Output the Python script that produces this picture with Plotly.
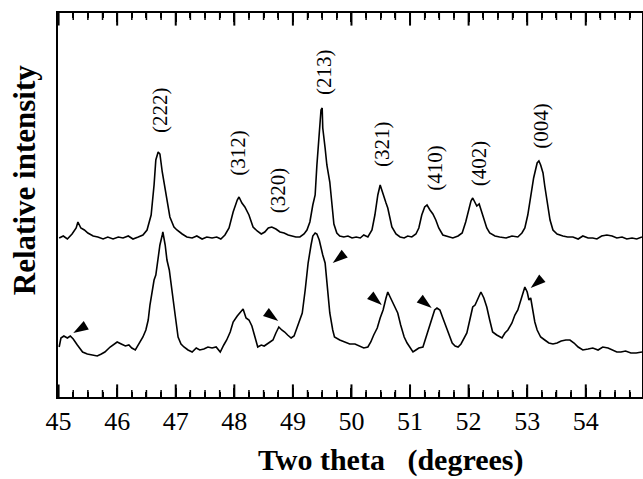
import plotly.graph_objects as go

# ---- data ----
two_theta_top = [
    45.01, 45.08, 45.15, 45.23, 45.30, 45.33, 45.38, 45.44, 45.50, 45.59,
    45.67, 45.76, 45.84, 45.93, 46.02, 46.10, 46.19, 46.27, 46.36, 46.44,
    46.51, 46.58, 46.63, 46.66, 46.70, 46.73, 46.77, 46.80, 46.85, 46.90,
    46.97, 47.02, 47.11, 47.19, 47.28, 47.36, 47.45, 47.53, 47.62, 47.70,
    47.77, 47.84, 47.91, 47.98, 48.05, 48.08, 48.13, 48.18, 48.25, 48.32,
    48.39, 48.46, 48.52, 48.58, 48.64, 48.71, 48.78, 48.85, 48.92, 48.98,
    49.05, 49.12, 49.19, 49.24, 49.29, 49.34, 49.38, 49.41, 49.45, 49.48,
    49.50, 49.51, 49.55, 49.58, 49.63, 49.67, 49.70, 49.75, 49.80, 49.87,
    49.94, 50.01, 50.08, 50.15, 50.21, 50.28, 50.35, 50.40, 50.45, 50.49,
    50.54, 50.59, 50.62, 50.66, 50.69, 50.76, 50.83, 50.90, 50.96, 51.03,
    51.10, 51.15, 51.20, 51.25, 51.29, 51.34, 51.39, 51.44, 51.49, 51.56,
    51.65, 51.73, 51.82, 51.89, 51.95, 52.01, 52.04, 52.07, 52.11, 52.14,
    52.18, 52.21, 52.26, 52.31, 52.36, 52.45, 52.53, 52.64, 52.74, 52.84,
    52.91, 52.96, 53.01, 53.06, 53.11, 53.17, 53.20, 53.23, 53.27, 53.30,
    53.34, 53.39, 53.44, 53.51, 53.61, 53.69, 53.78, 53.87, 53.95, 54.04,
    54.12, 54.19, 54.27, 54.36, 54.45, 54.53, 54.62, 54.70, 54.79, 54.87,
    54.96,
]
intensity_top = [
    159, 161, 158, 163, 169, 175, 169, 167, 164, 161,
    160, 158, 160, 158, 160, 159, 161, 158, 160, 162,
    167, 182, 212, 237, 245, 243, 225, 215, 197, 180,
    170, 167, 163, 160, 159, 161, 158, 160, 159, 160,
    158, 162, 169, 185, 197, 200, 194, 190, 182, 170,
    166, 163, 165, 169, 170, 168, 165, 164, 162, 161,
    160, 160, 163, 167, 175, 192, 202, 232, 267, 287,
    289, 269, 249, 232, 215, 192, 173, 164, 161, 160,
    161, 159, 160, 159, 162, 160, 167, 182, 202, 212,
    202, 194, 189, 179, 170, 163, 160, 159, 161, 160,
    163, 169, 182, 190, 192, 187, 183, 177, 169, 162,
    160, 159, 161, 164, 175, 189, 196, 199, 194, 191,
    193, 187, 177, 169, 164, 161, 160, 159, 161, 160,
    164, 169, 182, 202, 219, 234, 236, 232, 224, 211,
    194, 177, 167, 163, 161, 160, 160, 158, 161, 159,
    159, 158, 161, 162, 161, 159, 160, 158, 159, 158,
    160,
]

two_theta_bottom = [
    45.01, 45.04, 45.09, 45.15, 45.20, 45.25, 45.32, 45.41, 45.49, 45.57,
    45.66, 45.73, 45.79, 45.88, 45.95, 46.00, 46.07, 46.14, 46.20, 46.25,
    46.31, 46.37, 46.44, 46.49, 46.53, 46.56, 46.60, 46.63, 46.66, 46.70,
    46.73, 46.77, 46.78, 46.82, 46.85, 46.89, 46.92, 46.95, 46.99, 47.04,
    47.09, 47.14, 47.21, 47.28, 47.35, 47.41, 47.48, 47.55, 47.62, 47.69,
    47.76, 47.82, 47.87, 47.93, 47.98, 48.05, 48.10, 48.15, 48.20, 48.25,
    48.30, 48.35, 48.40, 48.46, 48.51, 48.56, 48.61, 48.66, 48.71, 48.76,
    48.81, 48.86, 48.91, 48.97, 49.02, 49.09, 49.16, 49.21, 49.26, 49.31,
    49.34, 49.38, 49.41, 49.45, 49.48, 49.51, 49.55, 49.58, 49.63, 49.68,
    49.71, 49.80, 49.89, 49.97, 50.06, 50.14, 50.21, 50.28, 50.33, 50.38,
    50.44, 50.49, 50.54, 50.59, 50.62, 50.66, 50.71, 50.76, 50.79, 50.84,
    50.90, 50.95, 51.00, 51.05, 51.10, 51.15, 51.22, 51.27, 51.32, 51.37,
    51.42, 51.46, 51.51, 51.56, 51.61, 51.66, 51.72, 51.77, 51.82, 51.87,
    51.92, 51.97, 52.02, 52.07, 52.11, 52.16, 52.21, 52.26, 52.31, 52.36,
    52.41, 52.48, 52.57, 52.62, 52.67, 52.74, 52.79, 52.84, 52.89, 52.95,
    52.96, 53.00, 53.03, 53.06, 53.10, 53.13, 53.17, 53.23, 53.30, 53.37,
    53.44, 53.51, 53.58, 53.66, 53.73, 53.80, 53.87, 53.95, 54.04, 54.12,
    54.21, 54.29, 54.38, 54.46, 54.53, 54.60, 54.68, 54.77, 54.86, 54.96,
]
intensity_bottom = [
    50, 59, 61, 59, 61, 58, 52, 45, 43, 42,
    41, 43, 45, 50, 53, 55, 53, 51, 52, 49,
    47, 53, 60, 67, 77, 92, 109, 117, 122, 140,
    152, 162, 165, 152, 137, 127, 112, 100, 82, 60,
    53, 50, 47, 45, 49, 47, 48, 50, 49, 50,
    45, 52, 57, 65, 75, 81, 85, 88, 79, 77,
    71, 61, 50, 52, 51, 53, 55, 57, 64, 70,
    67, 65, 62, 59, 61, 72, 84, 107, 134, 152,
    161, 164, 163, 157, 149, 142, 134, 112, 84, 67,
    60, 57, 55, 53, 53, 51, 49, 50, 55, 62,
    69, 79, 87, 99, 105, 100, 94, 87, 84, 72,
    60, 54, 49, 45, 47, 49, 50, 59, 69, 79,
    87, 89, 87, 79, 71, 62, 54, 51, 50, 53,
    59, 64, 77, 90, 92, 99, 105, 99, 90, 77,
    65, 62, 59, 64, 67, 74, 82, 87, 97, 107,
    110, 105, 97, 99, 87, 75, 67, 60, 57, 54,
    53, 54, 56, 57, 57, 54, 50, 47, 48, 49,
    47, 50, 49, 47, 45, 45, 46, 44, 44, 45,
]

peak_labels = ["(222)", "(312)", "(320)", "(213)", "(321)", "(410)", "(402)", "(004)"]
peak_label_x = [46.73, 48.06, 48.75, 49.53, 50.52, 51.42, 52.18, 53.23]
peak_label_y = [287, 244, 207, 325, 253, 229, 234, 271]

arrow_x = [45.25, 48.75, 49.68, 50.52, 51.37, 53.06]
arrow_y = [64, 76, 134, 92, 89, 109]
arrow_angle = [239, 126, 232, 130, 128, 230]

x_ticks = [45, 46, 47, 48, 49, 50, 51, 52, 53, 54]
x_minor_ticks = [45 + 0.25 * i for i in range(40) if i % 4]

SERIF = "Liberation Serif"
X_RANGE = [44.99, 54.96]
Y_RANGE = [0, 384]

fig = go.Figure()
fig.add_trace(go.Scatter(x=two_theta_top, y=intensity_top, mode="lines",
                         line=dict(color="black", width=1.6), showlegend=False))
fig.add_trace(go.Scatter(x=two_theta_bottom, y=intensity_bottom, mode="lines",
                         line=dict(color="black", width=1.6), showlegend=False))
fig.add_trace(go.Scatter(x=arrow_x, y=arrow_y, mode="markers", showlegend=False,
                         marker=dict(symbol="arrow", size=16, color="black",
                                     angle=arrow_angle, line=dict(width=0))))


# inward tick marks on the bottom and top frame edges (clipped to the plot area)
def tick_trace(values, size, width):
    xs = list(values) + list(values)
    ys = [Y_RANGE[0]] * len(values) + [Y_RANGE[1]] * len(values)
    return go.Scatter(x=xs, y=ys, mode="markers", showlegend=False, hoverinfo="skip",
                      cliponaxis=True,
                      marker=dict(symbol="line-ns", size=size, color="black",
                                  line=dict(color="black", width=width)))


fig.add_trace(tick_trace(x_ticks, 18, 2))
fig.add_trace(tick_trace(x_minor_ticks, 10, 1.5))

for t, x, y in zip(peak_labels, peak_label_x, peak_label_y):
    fig.add_annotation(x=x, y=y, xref="x", yref="y", text=t, showarrow=False,
                       textangle=-90, xanchor="center", yanchor="middle",
                       font=dict(family=SERIF, size=21, color="black"))

fig.add_annotation(x=0.570, y=-0.163, xref="paper", yref="paper",
                   text="<b>Two theta&nbsp;&nbsp;&nbsp;(degrees)</b>", showarrow=False,
                   xanchor="center", yanchor="middle",
                   font=dict(family=SERIF, size=30, color="black"))
fig.add_annotation(x=-0.058, y=0.565, xref="paper", yref="paper",
                   text="<b>Relative intensity</b>", showarrow=False, textangle=-90,
                   xanchor="center", yanchor="middle",
                   font=dict(family=SERIF, size=31, color="black"))

fig.update_layout(
    template="none",
    xaxis=dict(range=X_RANGE, tickmode="array", tickvals=x_ticks,
               ticks="inside", ticklen=9, tickwidth=2, tickcolor="black",
               mirror="ticks", showline=True, linewidth=2, linecolor="black",
               showgrid=False, zeroline=False,
               tickfont=dict(family=SERIF, size=26, color="black"),
               minor=dict(ticks="inside", dtick=0.25, ticklen=5, tickwidth=1.5,
                          tickcolor="black")),
    yaxis=dict(range=Y_RANGE, showticklabels=False, ticks="inside", ticklen=1,
               tickcolor="rgba(0,0,0,0)", mirror=True,
               showline=True, linewidth=2, linecolor="black", showgrid=False,
               zeroline=False),
    width=643, height=479, margin=dict(l=58, r=1, t=13, b=82),
    paper_bgcolor="white",
)

fig.write_html("out.html")
